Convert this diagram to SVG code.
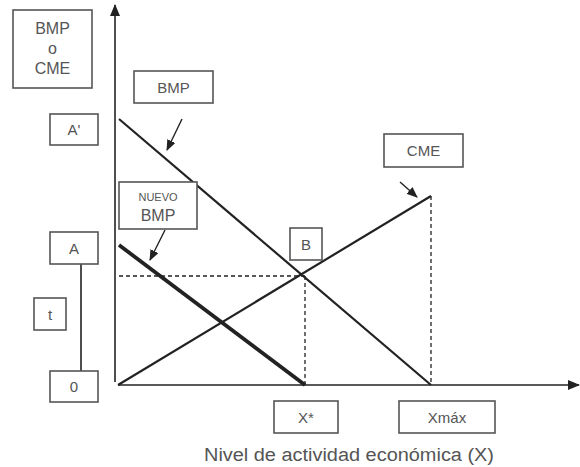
<svg xmlns="http://www.w3.org/2000/svg" width="580" height="467" viewBox="0 0 580 467">
<style>
.box{fill:#fff;stroke:#555;stroke-width:1.6}
.lbl{font-family:"Liberation Sans",Arial,sans-serif;font-size:15px;fill:#555;text-anchor:middle}
.ax{stroke:#222;stroke-width:1.6;fill:none}
.ln{stroke:#222;stroke-width:2.2;fill:none}
.thick{stroke:#222;stroke-width:3.8;fill:none}
.dash{stroke:#222;stroke-width:1.3;stroke-dasharray:4 3;fill:none}
.ptr{stroke:#222;stroke-width:1.4;fill:none}
</style>
<defs>
<marker id="ah" markerWidth="11" markerHeight="9" refX="10" refY="4.5" orient="auto" markerUnits="userSpaceOnUse" viewBox="0 0 11 9">
<path d="M0,0 L11,4.5 L0,9 Z" fill="#222"/>
</marker>
<marker id="axh" markerWidth="12" markerHeight="10" refX="11" refY="5" orient="auto" markerUnits="userSpaceOnUse" viewBox="0 0 12 10">
<path d="M0,0 L12,5 L0,10 Z" fill="#222"/>
</marker>
</defs>
<rect width="580" height="467" fill="#fff"/>
<g id="connectors">
<line class="ax" x1="115" y1="382" x2="115" y2="5" marker-end="url(#axh)"/>
<line class="ax" x1="118" y1="385" x2="579" y2="385" marker-end="url(#axh)"/>
<line class="ln" x1="119" y1="119" x2="431" y2="385"/>
<line class="ln" x1="118" y1="385" x2="431" y2="196"/>
<line class="thick" x1="119" y1="245" x2="305" y2="385"/>
<line class="dash" x1="119" y1="276" x2="305" y2="276"/>
<line class="dash" x1="305" y1="276" x2="305" y2="385"/>
<line class="dash" x1="431" y1="196" x2="431" y2="385"/>
<line class="ax" x1="81" y1="264" x2="81" y2="371"/>
<line class="ptr" x1="182" y1="119" x2="167" y2="150" marker-end="url(#ah)"/>
<line class="ptr" x1="165" y1="230" x2="150" y2="260" marker-end="url(#ah)"/>
<line class="ptr" x1="400" y1="182" x2="417" y2="197" marker-end="url(#ah)"/>
</g>
<g id="yaxis-label">
<rect class="box" x="13" y="10" width="79" height="78"/>
<text class="lbl" x="52.5" y="34" style="font-size:16px">BMP</text>
<text class="lbl" x="52.5" y="54" style="font-size:16px">o</text>
<text class="lbl" x="52.5" y="74" style="font-size:16px">CME</text>
</g>
<g id="bmp-label">
<rect class="box" x="134" y="71" width="79" height="32"/>
<text class="lbl" x="173.5" y="93">BMP</text>
</g>
<g id="a-prime">
<rect class="box" x="50" y="114" width="48" height="31"/>
<text class="lbl" x="74" y="135">A'</text>
</g>
<g id="nuevo-bmp">
<rect class="box" x="119" y="182" width="78" height="47"/>
<text class="lbl" x="158" y="201" style="font-size:11px">NUEVO</text>
<text class="lbl" x="158" y="221" style="font-size:16px">BMP</text>
</g>
<g id="a">
<rect class="box" x="50" y="232" width="48" height="32"/>
<text class="lbl" x="74" y="254">A</text>
</g>
<g id="t">
<rect class="box" x="34" y="298" width="32" height="32"/>
<text class="lbl" x="50" y="320">t</text>
</g>
<g id="zero">
<rect class="box" x="50" y="371" width="48" height="31"/>
<text class="lbl" x="74" y="392">0</text>
</g>
<g id="b">
<rect class="box" x="290" y="228" width="32" height="32"/>
<text class="lbl" x="306" y="250">B</text>
</g>
<g id="cme">
<rect class="box" x="384" y="134" width="79" height="33"/>
<text class="lbl" x="423.5" y="156">CME</text>
</g>
<g id="xstar">
<rect class="box" x="274" y="401" width="64" height="32"/>
<text class="lbl" x="306" y="423">X*</text>
</g>
<g id="xmax">
<rect class="box" x="399" y="401" width="96" height="32"/>
<text class="lbl" x="447" y="423">Xmáx</text>
</g>
<g id="caption">
<text class="lbl" x="349" y="461" style="font-size:18px" textLength="290" lengthAdjust="spacingAndGlyphs">Nivel de actividad económica (X)</text>
</g>
</svg>
